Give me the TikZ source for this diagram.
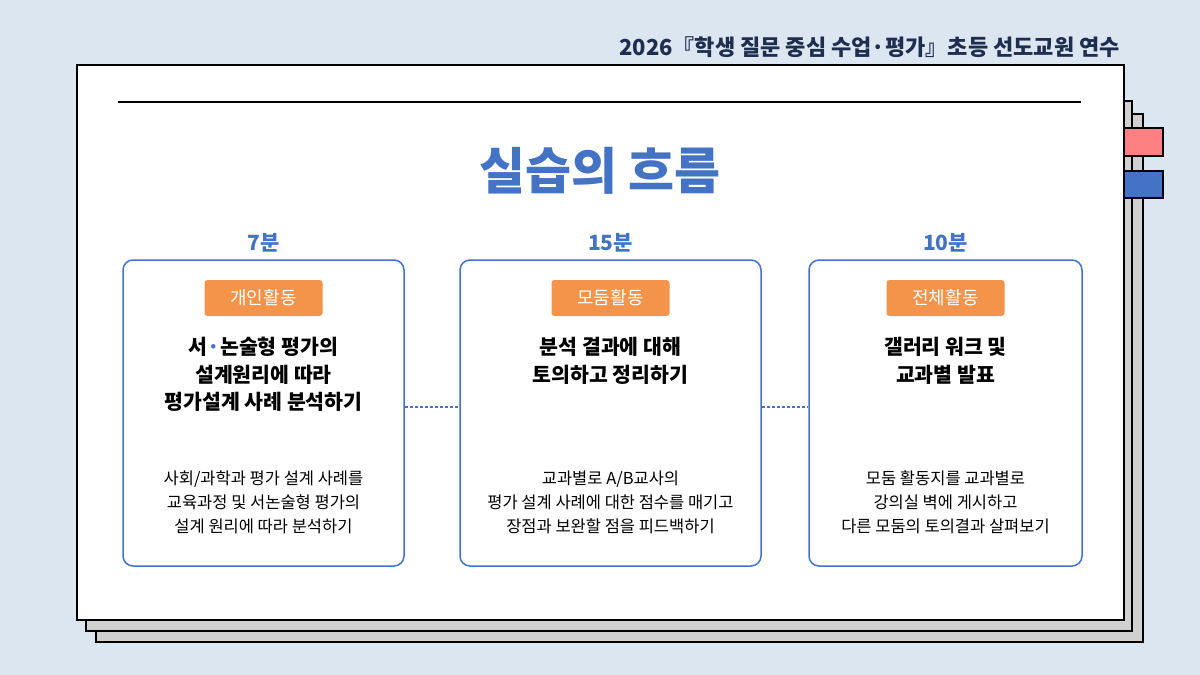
\documentclass[tikz,border=0pt]{standalone}
\usepackage{fontspec}
\setmainfont{Noto Sans CJK KR}
\begin{document}
\begin{tikzpicture}[x=1pt,y=-1pt,
  box/.style={draw=boxblue,line width=1.5pt,rounded corners=10pt,fill=white},
  badge/.style={fill=orng,text=white,minimum width=118pt,minimum height=36pt,rounded corners=3pt,font=\fontsize{18}{20}\selectfont,inner sep=0pt},
  head/.style={font=\fontsize{20.5}{27.5}\bfseries\selectfont,align=center},
  body/.style={font=\fontsize{16.5}{24}\selectfont,align=center},
  tm/.style={font=\fontsize{21}{24}\bfseries\selectfont,text=boxblue},
  conn/.style={draw=boxblue,dash pattern=on 3pt off 2pt,line width=1.2pt}]
\definecolor{bg}{HTML}{DCE6F0}
\definecolor{boxblue}{HTML}{4472C4}
\definecolor{orng}{HTML}{F4934A}
\definecolor{navy}{HTML}{1F2D4F}
\definecolor{pinkt}{HTML}{FF8080}
\definecolor{greyl}{HTML}{D0D0D0}
\fill[bg] (0,0) rectangle (1200,675);
\useasboundingbox (0,0) rectangle (1200,675);
\node[anchor=east,text=navy,font=\fontsize{22}{24}\bfseries\selectfont,inner sep=0pt] (hdr) at (1120,47) {2026『학생 질문 중심 수업·평가』초등 선도교원 연수};
\draw[fill=greyl,line width=1.5pt] (96,114) rectangle (1143,642);
\draw[fill=greyl,line width=1.5pt] (86,101) rectangle (1132,631);
\draw[fill=pinkt,line width=2pt] (1110,128) rectangle (1163,156);
\draw[fill=boxblue,line width=2pt] (1110,171) rectangle (1163,198);
\draw[fill=white,line width=2.5pt] (77,65) rectangle (1124,620);
\draw[line width=2pt] (118,102) -- (1081,102);
\node[text=boxblue,font=\fontsize{50}{54}\bfseries\selectfont] (title) at (600,171) {실습의 흐름};
\node[box,minimum width=281pt,minimum height=306pt] (b1) at (263.5,413) {};
\node[box,minimum width=301pt,minimum height=306pt] (b2) at (610.5,413) {};
\node[box,minimum width=273pt,minimum height=306pt] (b3) at (945.5,413) {};
\draw[conn] (b1.east |- 0,407) coordinate (c1) -- (b2.west |- 0,407) coordinate (c2);
\draw[conn] (b2.east |- 0,407) coordinate (c3) -- (b3.west |- 0,407) coordinate (c4);
\node[tm] (t1) at (263.5,243) {7분};
\node[tm] (t2) at (610.5,243) {15분};
\node[tm] (t3) at (945.5,243) {10분};
\node[badge] (g1) at (263.5,298) {개인활동};
\node[badge] (g2) at (610.5,298) {모둠활동};
\node[badge] (g3) at (945.5,298) {전체활동};
\node[head,anchor=north] (h1) at (263.5,334) {서{\color{boxblue}·}논술형 평가의\\설계원리에 따라\\평가설계 사례 분석하기};
\node[head,anchor=north] (h2) at (610.5,334) {분석 결과에 대해\\토의하고 정리하기};
\node[head,anchor=north] (h3) at (945.5,334) {갤러리 워크 및\\교과별 발표};
\node[body] (d1) at (263.5,502) {사회/과학과 평가 설계 사례를\\교육과정 및 서논술형 평가의\\설계 원리에 따라 분석하기};
\node[body] (d2) at (610.5,502) {교과별로 A/B교사의\\평가 설계 사례에 대한 점수를 매기고\\장점과 보완할 점을 피드백하기};
\node[body] (d3) at (945.5,502) {모둠 활동지를 교과별로\\강의실 벽에 게시하고\\다른 모둠의 토의결과 살펴보기};
\end{tikzpicture}
\end{document}
